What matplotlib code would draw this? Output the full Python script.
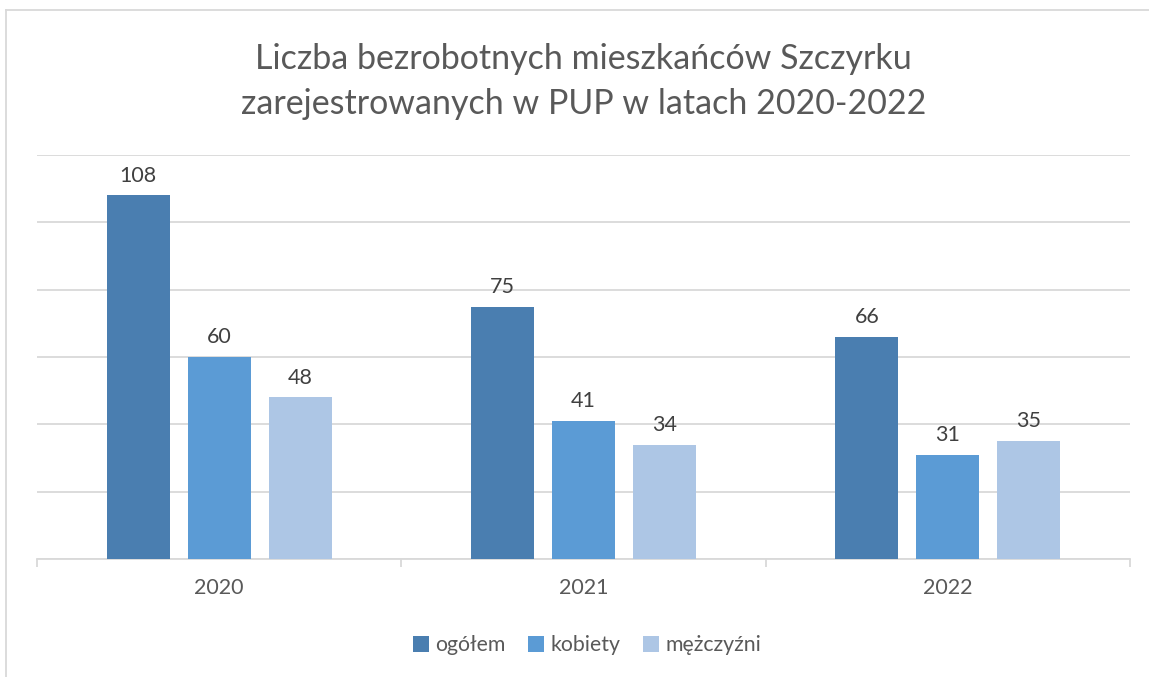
import numpy as np
import matplotlib.pyplot as plt
from matplotlib.lines import Line2D

years = ["2020", "2021", "2022"]
series_names = ["ogółem", "kobiety", "mężczyźni"]
ogolem = [108, 75, 66]
kobiety = [60, 41, 31]
mezczyzni = [48, 34, 35]
colors = ["#4a7eb0", "#5b9bd5", "#adc6e5"]

plt.rcParams['font.family'] = ['Lato', 'DejaVu Sans']
fig = plt.figure(figsize=(11.49, 6.77), dpi=100)
ax = fig.add_axes([0.0322, 0.1743, 0.9513, 0.5967])

x = np.arange(len(years))
width = 0.173
step = 0.2225
for i, (vals, name) in enumerate(zip([ogolem, kobiety, mezczyzni], series_names)):
    bars = ax.bar(x + (i - 1) * step, vals, width, color=colors[i], label=name, zorder=3)
    for b, v in zip(bars, vals):
        ax.annotate(str(v), (b.get_x() + b.get_width() / 2, v), xytext=(0, 7),
                    textcoords='offset points', ha='center', va='bottom',
                    fontsize=15.5, color='#404040')

ax.set_xlim(-0.5, 2.5)
ax.set_ylim(0, 120)
ax.set_yticks(np.arange(0, 121, 20))
ax.yaxis.grid(True, color='#d9d9d9', linewidth=1.3, zorder=0)
ax.tick_params(axis='y', left=False, labelleft=False)
ax.set_xticks(x)
ax.set_xticklabels(years, fontsize=15.5, color='#595959')
ax.tick_params(axis='x', which='major', length=0, pad=14)
ax.set_xticks([-0.5, 0.5, 1.5, 2.5], minor=True)
ax.tick_params(axis='x', which='minor', length=6, color='#d9d9d9', width=1.3)
for s in ['top', 'right', 'left']:
    ax.spines[s].set_visible(False)
ax.spines['bottom'].set_color('#d9d9d9')
ax.spines['bottom'].set_linewidth(1.3)

fig.suptitle("Liczba bezrobotnych mieszkańców Szczyrku\nzarejestrowanych w PUP w latach 2020-2022",
             x=0.508, y=0.936, fontsize=24.5, color='#595959', linespacing=1.5)

fig.legend(loc='center', bbox_to_anchor=(0.511, 0.047), ncol=3, frameon=False,
           fontsize=15.3, handlelength=0.75, handleheight=0.75, handletextpad=0.3,
           columnspacing=1.05, labelcolor='#595959')

# chart border (top and left edges visible in the crop)
fig.add_artist(Line2D([6 / 1149, 1], [1 - 10 / 677, 1 - 10 / 677], color='#d9d9d9', linewidth=1.3))
fig.add_artist(Line2D([6 / 1149, 6 / 1149], [0, 1 - 10 / 677], color='#d9d9d9', linewidth=1.3))

fig.savefig("out.png", dpi=100)
